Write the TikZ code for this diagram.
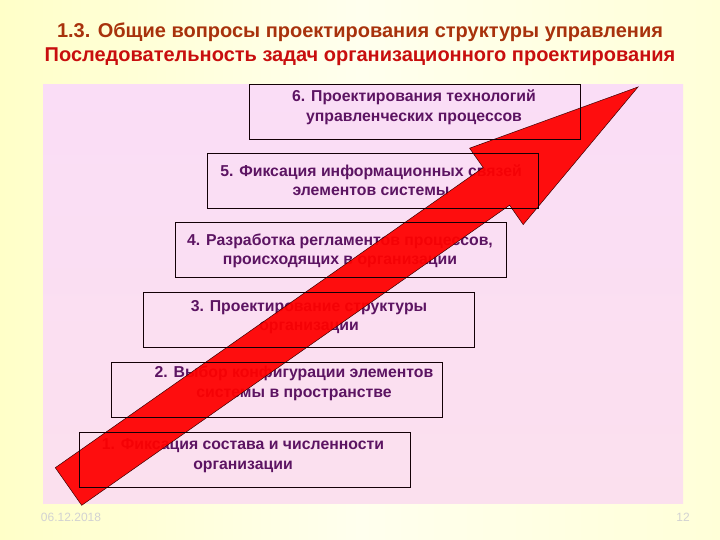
\documentclass[tikz,border=0pt]{standalone}
\usepackage{fontspec}
\setmainfont{Liberation Sans}
\usetikzlibrary{calc}
\definecolor{bgleft}{HTML}{FFFFC8}
\definecolor{bgmid}{HTML}{FFFFEE}
\definecolor{bgright}{HTML}{FFFFD8}
\definecolor{pnltop}{HTML}{FADDF6}
\definecolor{pnlbot}{HTML}{FBE0EE}
\definecolor{titleA}{HTML}{A8320C}
\definecolor{titleB}{HTML}{C80E0E}
\definecolor{boxtxt}{HTML}{5C1462}
\definecolor{arrowred}{HTML}{FF0000}
\definecolor{arrowedge}{HTML}{3A0000}
\definecolor{footgray}{HTML}{D2D2D2}
\tikzset{
  stepbox/.style={draw=black!90!purple, line width=0.8pt, minimum width=331pt, minimum height=55pt, inner sep=0pt},
  steptext/.style={text=boxtxt, align=center, font=\fontsize{15.8}{19.5}\selectfont\bfseries, inner sep=0pt},
  titletext/.style={font=\fontsize{20}{23}\selectfont\bfseries, inner sep=0pt},
  foot/.style={text=footgray, font=\fontsize{12}{13}\selectfont, inner sep=0pt}
}
\begin{document}
\begin{tikzpicture}[x=1pt,y=-1pt]
\useasboundingbox (0,0) rectangle (720,540);
% background
\shade[left color=bgleft, right color=bgright, middle color=bgmid] (0,0) rectangle (720,540);
% panel
\shade[top color=pnltop, bottom color=pnlbot] (43,85) rectangle (683,503);
% titles
\node[titletext, text=titleA] (title1) at (360,32) {1.3. Общие вопросы проектирования структуры управления};
\node[titletext, text=titleB] (title2) at (360,57) {Последовательность задач организационного проектирования};
% step texts
\node[steptext] (t6) at (414,107.5) {6. Проектирования технологий\\управленческих процессов};
\node[steptext] (t5) at (371,180) {5. Фиксация информационных связей\\элементов системы};
\node[steptext] (t4) at (340,251) {4. Разработка регламентов процессов,\\происходящих в организации};
\node[steptext] (t3) at (309,317) {3. Проектирование структуры\\организации};
\node[steptext] (t2) at (294,383.5) {2. Выбор конфигурации элементов\\системы в пространстве};
\node[steptext] (t1) at (243,455.5) {1. Фиксация состава и численности\\организации};
% arrow
\fill[arrowred, fill opacity=0.94] (55.3,467.7) -- (483.2,167.6) -- (469.6,148.2) -- (638,87) -- (523.2,224.6) -- (509.6,205.2) -- (81.7,505.3) -- cycle;
\draw[arrowedge, line width=0.5pt, line join=miter] (55.3,467.7) -- (483.2,167.6) -- (469.6,148.2) -- (638,87) -- (523.2,224.6) -- (509.6,205.2) -- (81.7,505.3) -- cycle;
% step boxes (borders over the arrow)
\node[stepbox] (b6) at (415,111.5) {};
\node[stepbox] (b5) at (372.5,181) {};
\node[stepbox] (b4) at (340.5,250) {};
\node[stepbox] (b3) at (308.5,319.5) {};
\node[stepbox] (b2) at (276.5,389.5) {};
\node[stepbox] (b1) at (244.5,459.5) {};
% footer
\node[foot] (date) at (71,517) {06.12.2018};
\node[foot] (page) at (683,517) {12};
\end{tikzpicture}
\end{document}
